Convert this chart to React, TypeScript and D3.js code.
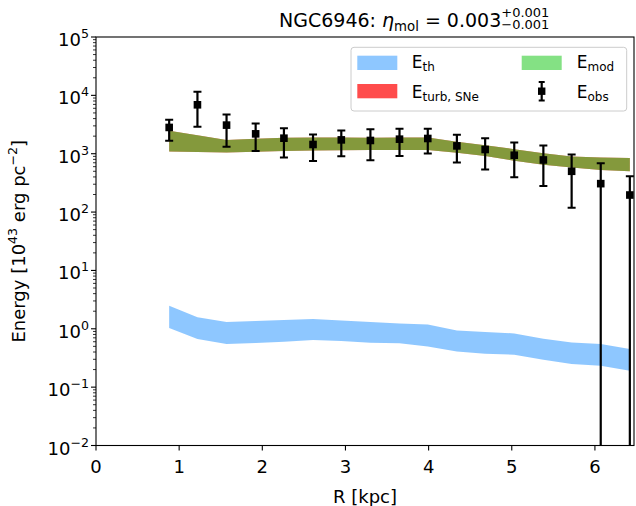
import * as d3 from "d3";

// radius of each annulus [kpc]
const radius = [0.88, 1.22, 1.57, 1.92, 2.26, 2.61, 2.95, 3.3, 3.65, 3.99, 4.34, 4.68, 5.03, 5.38, 5.72, 6.07, 6.42];

// observed energy and error bounds [1e43 erg pc^-2]
const obsVal = [2820, 6890, 3090, 2190, 1845, 1439, 1726, 1687, 1775, 1824, 1362, 1181, 942, 782, 500, 307, 196];
const obsHi = [3810, 11530, 4720, 3300, 2741, 2138, 2506, 2636, 2668, 2668, 2104, 1845, 1555, 1383, 968, 687, 410];
const obsLo = [1660, 2884, 1310, 1117, 861, 751, 906, 773, 916, 1007, 706, 535, 394, 280, 119, 0, 0];

// model band
const modHi = [2466, 2080, 1726, 1811, 1884, 1897, 1897, 1884, 1897, 1897, 1607, 1400, 1195, 1021, 895, 861, 847];
const modLo = [1091, 1069, 1049, 1082, 1117, 1135, 1148, 1158, 1161, 1161, 1040, 916, 758, 647, 579, 527, 501];

// turbulent (SNe) band, sits right under the model band
const turbHi = [2466, 2080, 1726, 1811, 1884, 1897, 1897, 1884, 1897, 1897, 1607, 1400, 1195, 1021, 895, 861, 847];
const turbLo = [1091, 1069, 1049, 1082, 1117, 1135, 1148, 1158, 1161, 1161, 1040, 916, 758, 647, 579, 527, 501];

// thermal band
const thHi = [2.49, 1.57, 1.31, 1.36, 1.42, 1.47, 1.39, 1.31, 1.23, 1.19, 0.939, 0.881, 0.834, 0.676, 0.584, 0.548, 0.45];
const thLo = [1.03, 0.668, 0.548, 0.57, 0.6, 0.642, 0.617, 0.577, 0.566, 0.498, 0.409, 0.373, 0.359, 0.294, 0.248, 0.232, 0.191];

const xTicks = [0, 1, 2, 3, 4, 5, 6];
const yExps = [-2, -1, 0, 1, 2, 3, 4, 5];

const W = 636;
const H = 506;
const left = 96;
const right = 634;
const top = 37;
const bottom = 445.5;
const font = "DejaVu Sans";

export default function App() {
	const x = d3.scaleLinear().domain([0, 6.47]).range([left, right]);
	const y = d3.scaleLog().domain([1e-2, 1e5]).range([bottom, top]);

	const band = (lo: number[], hi: number[]) =>
		d3
			.area<number>()
			.x((_, i) => x(radius[i]))
			.y0((_, i) => y(lo[i]))
			.y1((_, i) => y(hi[i]))(radius) || "";

	const minor: number[] = [];
	for (let e = -2; e < 5; e += 1) {
		for (let m = 2; m < 10; m += 1) minor.push(m * Math.pow(10, e));
	}

	const clampY = (v: number) => (v <= 1e-2 ? bottom + 2 : y(v));

	return (
		<svg width={W} height={H} style={{ position: "absolute", left: 0, top: 0, background: "#fff" }} fontFamily={font}>
			<defs>
				<clipPath id="plotArea">
					<rect x={left} y={top} width={right - left} height={bottom - top} />
				</clipPath>
			</defs>

			{/* title */}
			<text x={279} y={27} fontSize={19} fill="#000">
				NGC6946:{" "}
				<tspan fontStyle="italic">η</tspan>
				<tspan fontSize={13.3} dy={4}>mol</tspan>
				<tspan dy={-4}> = 0.003</tspan>
				<tspan fontSize={13} dy={-10}>+0.001</tspan>
				<tspan fontSize={13} dx={-48.1} dy={12}>−0.001</tspan>
			</text>

			<g clipPath="url(#plotArea)">
				<path d={band(thLo, thHi)} fill="dodgerblue" fillOpacity={0.5} />
				<path d={band(turbLo, turbHi)} fill="red" fillOpacity={0.7} />
				<path d={band(modLo, modHi)} fill="limegreen" fillOpacity={0.6} />

				{radius.map((r, i) => {
					const cx = x(r);
					const yHi = y(obsHi[i]);
					const yLo = clampY(obsLo[i]);
					return (
						<g key={i}>
							<line x1={cx} x2={cx} y1={yHi} y2={yLo} stroke="#000" strokeWidth={2.2} />
							<line x1={cx - 4} x2={cx + 4} y1={yHi} y2={yHi} stroke="#000" strokeWidth={2} />
							{obsLo[i] > 1e-2 && (
								<line x1={cx - 4} x2={cx + 4} y1={yLo} y2={yLo} stroke="#000" strokeWidth={2} />
							)}
							<rect x={cx - 3.8} y={y(obsVal[i]) - 3.8} width={7.6} height={7.6} fill="#000" />
						</g>
					);
				})}
			</g>

			{/* axes frame */}
			<rect x={left} y={top} width={right - left} height={bottom - top} fill="none" stroke="#000" strokeWidth={1.1} />

			{/* x axis */}
			{xTicks.map((t) => (
				<g key={"x" + t}>
					<line x1={x(t)} x2={x(t)} y1={bottom} y2={bottom + 5} stroke="#000" strokeWidth={1.1} />
					<text x={x(t)} y={bottom + 27} fontSize={18} textAnchor="middle">
						{t}
					</text>
				</g>
			))}
			<text x={(left + right) / 2} y={503} fontSize={18} textAnchor="middle">
				R [kpc]
			</text>

			{/* y axis */}
			{minor.map((m, i) => (
				<line key={"m" + i} x1={left - 3} x2={left} y1={y(m)} y2={y(m)} stroke="#000" strokeWidth={0.8} />
			))}
			{yExps.map((e) => (
				<g key={"y" + e}>
					<line x1={left - 5} x2={left} y1={y(Math.pow(10, e))} y2={y(Math.pow(10, e))} stroke="#000" strokeWidth={1.1} />
					<text x={89} y={y(Math.pow(10, e)) + 9} fontSize={18} textAnchor="end">
						10
						<tspan fontSize={12.6} dy={-8}>
							{e < 0 ? "−" + -e : String(e)}
						</tspan>
					</text>
				</g>
			))}
			<text transform={`translate(25,${(top + bottom) / 2}) rotate(-90)`} fontSize={18} textAnchor="middle">
				Energy [10
				<tspan fontSize={12.6} dy={-8}>43</tspan>
				<tspan dy={8}> erg pc</tspan>
				<tspan fontSize={12.6} dy={-8}>−2</tspan>
				<tspan dy={8}>]</tspan>
			</text>

			{/* legend */}
			<g>
				<rect x={351} y={47.3} width={275.7} height={63.7} rx={3} fill="#fff" fillOpacity={0.8} stroke="#ccc" strokeWidth={1} />
				<rect x={357.3} y={55.7} width={40} height={14.3} fill="dodgerblue" fillOpacity={0.5} />
				<text x={411.7} y={68.3} fontSize={17}>
					E<tspan fontSize={12} dy={3}>th</tspan>
				</text>
				<rect x={357.3} y={84} width={40} height={14.3} fill="red" fillOpacity={0.7} />
				<text x={411.7} y={98} fontSize={17}>
					E<tspan fontSize={12} dy={3}>turb, SNe</tspan>
				</text>
				<rect x={521.7} y={55.7} width={40} height={14.3} fill="limegreen" fillOpacity={0.6} />
				<text x={576.7} y={68.3} fontSize={17}>
					E<tspan fontSize={12} dy={3}>mod</tspan>
				</text>
				<line x1={541.7} x2={541.7} y1={82} y2={100.5} stroke="#000" strokeWidth={2.2} />
				<line x1={538.7} x2={544.7} y1={82} y2={82} stroke="#000" strokeWidth={2} />
				<line x1={538.7} x2={544.7} y1={100.5} y2={100.5} stroke="#000" strokeWidth={2} />
				<rect x={538} y={87.5} width={7.4} height={7.4} fill="#000" />
				<text x={576.7} y={98} fontSize={17}>
					E<tspan fontSize={12} dy={3}>obs</tspan>
				</text>
			</g>
		</svg>
	);
}
